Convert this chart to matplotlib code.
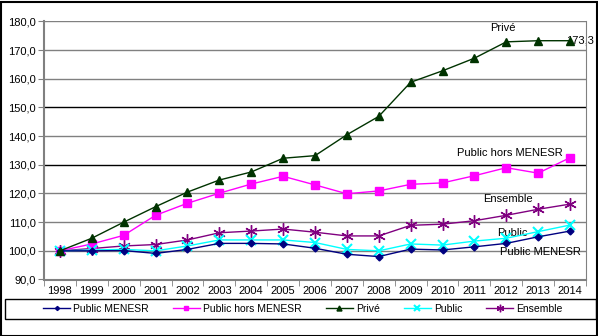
import matplotlib.pyplot as plt
from matplotlib.patches import Rectangle

years = [1998, 1999, 2000, 2001, 2002, 2003, 2004, 2005, 2006,
         2007, 2008, 2009, 2010, 2011, 2012, 2013, 2014]

public_menesr = [100.0, 100.0, 100.1, 99.1, 100.5, 102.6, 102.6, 102.4, 100.9,
                 98.8, 98.0, 100.6, 100.3, 101.4, 102.6, 104.9, 106.9]
public_hors = [100.0, 102.4, 105.4, 112.4, 116.6, 120.1, 123.3, 126.0, 123.0,
               119.9, 120.9, 123.2, 123.7, 126.2, 129.0, 127.1, 132.5]
prive = [100.0, 104.4, 110.0, 115.4, 120.5, 124.7, 127.5, 132.3, 133.2,
         140.5, 146.9, 158.8, 162.8, 167.2, 172.9, 173.3, 173.3]
public = [100.0, 100.3, 100.5, 100.0, 101.7, 103.8, 103.8, 103.8, 102.9,
          100.5, 100.0, 102.4, 102.0, 103.4, 104.4, 106.7, 109.0]
ensemble = [100.0, 100.8, 101.7, 102.2, 103.8, 106.3, 106.9, 107.6, 106.5,
            105.2, 105.2, 108.9, 109.3, 110.5, 112.4, 114.5, 116.3]

plt.rcParams['font.family'] = ['Liberation Sans', 'DejaVu Sans']

fig = plt.figure(figsize=(5.98, 3.36), dpi=100)
ax = fig.add_axes([44/598, (336-279.5)/336, (586-44)/598, (279.5-21.5)/336])

x = list(range(len(years)))
ax.plot(x, public_menesr, color='#000080', marker='D', ms=3.5, lw=1, label='Public MENESR', zorder=5)
ax.plot(x, public_hors, color='#FF00FF', marker='s', ms=5.5, lw=1, label='Public hors MENESR', zorder=4)
ax.plot(x, prive, color='#003300', marker='^', ms=6, lw=1, label='Privé', zorder=6)
ax.plot(x, public, color='#00FFFF', marker='x', ms=7, mew=1.5, lw=1, label='Public', zorder=4)
ax.plot(x, ensemble, color='#800080', marker=(6, 2, 0), ms=9, mew=1, lw=1, label='Ensemble', zorder=3)

ax.set_xlim(-0.5, len(years) - 0.5)
ax.set_ylim(90, 180)
yt = list(range(90, 181, 10))
ax.set_yticks(yt)
ax.set_yticklabels(['%d,0' % v for v in yt], fontsize=8)
ax.set_xticks(x)
ax.set_xticklabels([str(y) for y in years], fontsize=8)
ax.tick_params(axis='x', length=0, pad=5)
ax.tick_params(axis='y', length=4, color='#808080', pad=2)
ax.set_xticks([i - 0.5 for i in range(len(years) + 1)], minor=True)
ax.tick_params(axis='x', which='minor', length=4, color='#808080', direction='out')

for v in yt[1:]:
    c = 'black' if v in (130, 150) else '#808080'
    ax.axhline(v, color=c, lw=1, zorder=1)

for s in ['left', 'bottom']:
    ax.spines[s].set_color('#808080')
    ax.spines[s].set_linewidth(1.5)
ax.spines['right'].set_color('#808080')
ax.spines['top'].set_visible(False)

ax.text(13.9, 177.7, 'Privé', fontsize=8, ha='center', va='center')
ax.text(15.87, prive[-1], '173,3', fontsize=8, ha='left', va='center', zorder=2, clip_on=False)
ax.text(12.45, 134.1, 'Public hors MENESR', fontsize=8, ha='left', va='center')
ax.text(13.27, 118.1, 'Ensemble', fontsize=8, ha='left', va='center')
ax.text(13.7, 106.2, 'Public', fontsize=8, ha='left', va='center')
ax.text(13.8, 99.6, 'Public MENESR', fontsize=8, ha='left', va='center')

# legend frame drawn separately, entries centred inside like Excel
fig.patches.append(Rectangle((5/598, (336-319)/336), 591/598, 20/336, transform=fig.transFigure,
                             fill=False, edgecolor='black', lw=1))
handles, labels = ax.get_legend_handles_labels()
leg = fig.legend(handles, labels, ncol=5, loc='center',
                 bbox_to_anchor=(303/598, (336-309)/336),
                 fontsize=7.5, frameon=False, markerscale=0.6,
                 handlelength=2.6, handletextpad=0.3, columnspacing=2.3, borderpad=0)

fig.patches.append(Rectangle((0.5/598, 0.5/336), 596/598, 334/336, transform=fig.transFigure,
                             fill=False, edgecolor='black', lw=1.5))

fig.savefig('out.png', dpi=100)
